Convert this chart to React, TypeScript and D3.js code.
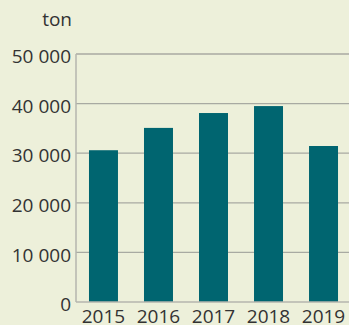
import React from "react";
import * as d3 from "d3";

const years = ["2015", "2016", "2017", "2018", "2019"];
const tons = [30600, 35100, 38100, 39500, 31450];
const yTicks = [0, 10000, 20000, 30000, 40000, 50000];
const unitLabel = "ton";

const W = 349;
const H = 325;
const left = 76;
const top = 54;
const bottom = 302;

export default function App() {
  const x = d3.scaleBand<string>().domain(years).range([left, left + 275]).paddingInner(0.473).paddingOuter(0.236);
  const y = d3.scaleLinear().domain([0, 50000]).range([bottom, top]);
  const fmt = (v: number) => d3.format(",")(v).replace(/,/g, " ");
  const font = "'Open Sans', sans-serif";
  const fs = 19;

  return (
    <svg width={W} height={H} style={{ position: "absolute", left: 0, top: 0, background: "#edf0da" }}>
      <rect width={W} height={H} fill="#edf0da" />
      {yTicks.filter((t) => t > 0).map((t) => (
        <line key={t} x1={left} x2={W} y1={y(t)} y2={y(t)} stroke="#a8aaa2" strokeWidth={1.3} />
      ))}
      {years.map((yr, i) => (
        <rect key={yr} x={x(yr)} y={y(tons[i])} width={x.bandwidth()} height={y(0) - y(tons[i])} fill="#006570" />
      ))}
      <line x1={left} x2={left} y1={top} y2={bottom} stroke="#b4b6ae" strokeWidth={1.5} />
      <line x1={left} x2={W} y1={bottom} y2={bottom} stroke="#b4b6ae" strokeWidth={1.5} />
      {yTicks.map((t) => (
        <text key={t} x={71} y={y(t)} dy="0.48em" textAnchor="end" fontFamily={font} fontSize={fs} fill="#333333">
          {fmt(t)}
        </text>
      ))}
      {years.map((yr) => (
        <text key={yr} x={(x(yr) as number) + x.bandwidth() / 2} y={323} textAnchor="middle" fontFamily={font} fontSize={fs} fill="#333333">
          {yr}
        </text>
      ))}
      <text x={72} y={26} textAnchor="end" fontFamily={font} fontSize={fs} fill="#333333">
        {unitLabel}
      </text>
    </svg>
  );
}
